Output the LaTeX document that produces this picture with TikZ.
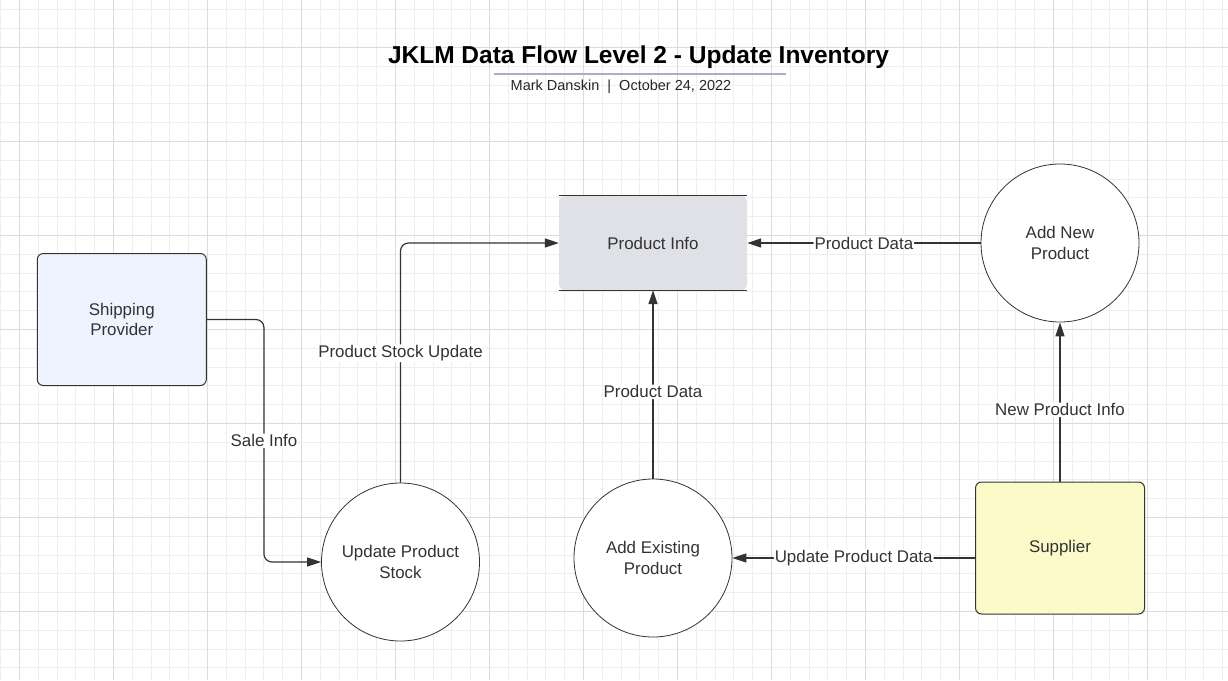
\documentclass[tikz,border=0pt]{standalone}
\usepackage{fontspec}
\setmainfont{Liberation Sans}
\usetikzlibrary{arrows.meta,calc}
\definecolor{gridminor}{HTML}{EEEEEE}
\definecolor{gridmajor}{HTML}{DCDCDC}
\definecolor{inkgrey}{HTML}{333333}
\definecolor{shipblue}{HTML}{EDF4FF}
\definecolor{supyellow}{HTML}{FBFAC8}
\definecolor{storegrey}{HTML}{DFE1E6}
\definecolor{rulegrey}{HTML}{A9AEC2}
\newcommand{\labelfont}{\fontsize{16.9}{20.8}\selectfont}
\tikzset{
  entity/.style={draw=inkgrey,line width=1pt,rectangle,rounded corners=6pt,minimum width=169pt,minimum height=132pt,text=inkgrey,align=center,font=\labelfont},
  process/.style={draw=inkgrey,line width=0.8pt,circle,fill=white,minimum size=158pt,inner sep=0pt,text=inkgrey,align=center,font=\labelfont},
  store/.style={rectangle,fill=storegrey,rounded corners=6pt,minimum width=188pt,minimum height=94pt,text=inkgrey,font=\labelfont},
  flow/.style={draw=inkgrey,line width=1.2pt,-{Triangle[length=14pt,width=9pt]},rounded corners=8pt},
  flowlabel/.style={fill=white,inner sep=1pt,text=inkgrey,font=\labelfont}
}
\begin{document}
\begin{tikzpicture}[x=1pt,y=-1pt]
\useasboundingbox (0,0) rectangle (1228,680);
\fill[white] (0,0) rectangle (1228,680);
% grid
\foreach \i in {0,...,65} \draw[gridminor,line width=0.8pt] ({0.5+18.8*\i},0) -- ++(0,680);
\foreach \i in {0,...,35} \draw[gridminor,line width=0.8pt] (0,{9.7+18.8*\i}) -- ++(1228,0);
\foreach \i in {0,...,12} \draw[gridmajor,line width=0.9pt] ({19.3+94*\i},0) -- ++(0,680);
\foreach \i in {0,...,6} \draw[gridmajor,line width=0.9pt] (0,{47.3+94*\i}) -- ++(1228,0);

% title
\node[font=\fontsize{24.5}{29}\selectfont\bfseries,text=black] (title) at (638.5,57) {JKLM Data Flow Level 2 - Update Inventory};
\draw[rulegrey,line width=2pt] (494,74) -- (786,74);
\node[font=\fontsize{14.5}{17}\selectfont,text=black!85] (byline) at (621,86.5) {Mark Danskin\ \ |\ \ October 24, 2022};

% entities, processes, store
\node[entity,fill=shipblue] (ship) at (121.8,319.5) {Shipping\\Provider};
\node[entity,fill=supyellow] (sup) at (1060,548) {Supplier};
\node[store] (pinfo) at (653,243) {Product Info};
\draw[inkgrey,line width=1pt] (pinfo.north west) -- (pinfo.north east) (pinfo.south west) -- (pinfo.south east);
\node[process] (ups) at (400.5,562) {Update Product\\Stock};
\node[process] (aep) at (653,558) {Add Existing\\Product};
\node[process] (anp) at (1060,243) {Add New\\Product};

% flows
\draw[flow] (ship.east) -| ($(ship.east)!.5!(ups.west)$) node[flowlabel]{Sale Info} |- (ups.west);
\draw[flow] (ups.north) |- node[flowlabel,pos=.27]{Product Stock Update} (pinfo.west);
\draw[flow] (aep.north) -- node[flowlabel,pos=.46]{Product Data} (pinfo.south);
\draw[flow] (anp.west) -- node[flowlabel]{Product Data} (pinfo.east);
\draw[flow] (sup.north) -- node[flowlabel,pos=.45]{New Product Info} (anp.south);
\draw[flow] (sup.west |- aep.east) -- node[flowlabel]{Update Product Data} (aep.east);
\end{tikzpicture}
\end{document}
